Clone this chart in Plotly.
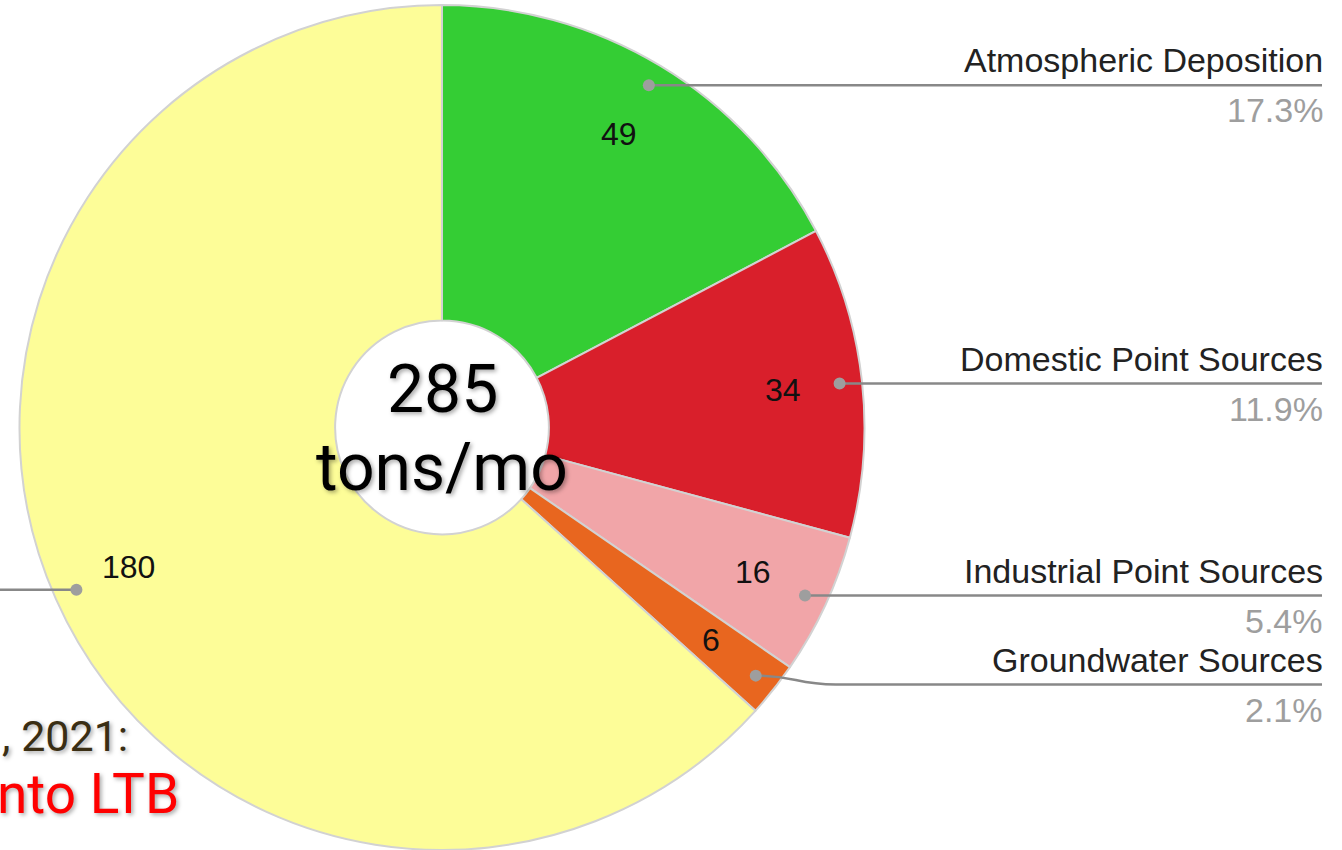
import math
import plotly.graph_objects as go

W, H = 1342, 850

# ---- data ----
names = ["Atmospheric Deposition", "Domestic Point Sources",
         "Industrial Point Sources", "Groundwater Sources", " "]
amounts = [49, 34, 16, 6, 180]          # tons/mo shown inside slices
shares = [17.3, 11.9, 5.4, 2.1, 63.3]   # percent shares
pct_labels = ["17.3%", "11.9%", "5.4%", "2.1%", "63.3%"]
colors = ["#34CD34", "#D91F2B", "#F1A5A8", "#E8661F", "#FDFD98"]
total_text = ["285", "tons/mo"]
side_text = [", 2021:", "nto LTB"]

# ---- geometry (pixels) ----
cx, cy, R = 442.0, 427.5, 422.5
hole = 0.253
dom_x = [(cx - R) / W, (cx + R) / W]
dom_y = [0.0, 1 - 5 / H]

def px(x):
    return x / W

def py(y):
    return 1 - y / H

def polar(theta_deg, r):
    t = math.radians(theta_deg)
    return cx + r * math.sin(t), cy - r * math.cos(t)

fig = go.Figure(go.Pie(
    labels=names, values=shares, sort=False, direction="clockwise",
    rotation=0, hole=hole, textinfo="none", hoverinfo="label+percent",
    marker=dict(colors=colors, line=dict(color="#D2D2D2", width=2)),
    domain=dict(x=dom_x, y=dom_y), showlegend=False,
))

shapes, annos = [], []
lab_font = dict(family="Liberation Sans, Arial, sans-serif", size=32, color="#111111")
name_font = dict(family="Liberation Sans, Arial, sans-serif", size=34, color="#222222")
pct_font = dict(family="Liberation Sans, Arial, sans-serif", size=34, color="#9E9E9E")
line_col = "#888888"
dot_r = 6

total = sum(shares)
cum = 0.0
right = []
for i, s in enumerate(shares):
    a0 = cum / total * 360
    cum += s
    a1 = cum / total * 360
    mid = (a0 + a1) / 2
    tx, ty = polar(mid, 343)
    annos.append(dict(x=px(tx), y=py(ty), xref="paper", yref="paper",
                      text=str(amounts[i]), showarrow=False,
                      xanchor="center", yanchor="middle", font=lab_font))
    dx, dy = polar(mid, 400)
    if mid < 180:
        right.append([i, dx, dy, dy])
    else:
        # label on the left side (cut off)
        shapes.append(dict(type="line", xref="paper", yref="paper",
                           x0=px(dx), y0=py(dy), x1=px(-5), y1=py(dy),
                           line=dict(color=line_col, width=2.5), layer="above"))
        shapes.append(dict(type="circle", xref="paper", yref="paper",
                           x0=px(dx - dot_r), x1=px(dx + dot_r),
                           y0=py(dy - dot_r), y1=py(dy + dot_r),
                           fillcolor="#9E9E9E", line=dict(width=0), layer="above"))

# collision avoidance: push lower labels down
gap = 89
right.sort(key=lambda r: r[2])
for k in range(1, len(right)):
    if right[k][3] - right[k - 1][3] < gap:
        right[k][3] = right[k - 1][3] + gap

x_end = 1322
for i, dx, dy, L in right:
    if abs(L - dy) < 1:
        path = f"M {px(dx)} {py(dy)} L {px(x_end)} {py(L)}"
    else:
        path = (f"M {px(dx)} {py(dy)} C {px(dx + 40)} {py(dy)} {px(dx + 40)} {py(L)} "
                f"{px(dx + 80)} {py(L)} L {px(x_end)} {py(L)}")
    shapes.append(dict(type="path", xref="paper", yref="paper", path=path,
                       line=dict(color=line_col, width=2.5), layer="above"))
    shapes.append(dict(type="circle", xref="paper", yref="paper",
                       x0=px(dx - dot_r), x1=px(dx + dot_r),
                       y0=py(dy - dot_r), y1=py(dy + dot_r),
                       fillcolor="#9E9E9E", line=dict(width=0), layer="above"))
    annos.append(dict(x=px(x_end + 3), y=py(L - 25), xref="paper", yref="paper",
                      text=names[i], showarrow=False, xanchor="right",
                      yanchor="middle", font=name_font))
    annos.append(dict(x=px(x_end + 3), y=py(L + 25), xref="paper", yref="paper",
                      text=pct_labels[i], showarrow=False, xanchor="right",
                      yanchor="middle", font=pct_font))

shadow = "2px 2px 4px rgba(0,0,0,0.35)"
ctr_font = dict(family="Roboto, sans-serif", size=66, color="#000000", shadow=shadow)
annos.append(dict(x=px(cx), y=py(389), xref="paper", yref="paper", text=total_text[0],
                  showarrow=False, xanchor="center", yanchor="middle", font=ctr_font))
annos.append(dict(x=px(cx), y=py(467), xref="paper", yref="paper", text=total_text[1],
                  showarrow=False, xanchor="center", yanchor="middle", font=ctr_font))

annos.append(dict(x=px(130), y=py(736), xref="paper", yref="paper", text=side_text[0],
                  showarrow=False, xanchor="right", yanchor="middle",
                  font=dict(family="Roboto, sans-serif", size=43, color="#3A2E14", shadow=shadow)))
annos.append(dict(x=px(181), y=py(794), xref="paper", yref="paper", text=side_text[1],
                  showarrow=False, xanchor="right", yanchor="middle",
                  font=dict(family="Roboto, sans-serif", size=55, color="#FF0000", shadow=shadow)))

fig.update_layout(
    width=W, height=H, margin=dict(l=0, r=0, t=0, b=0),
    paper_bgcolor="white", plot_bgcolor="white",
    shapes=shapes, annotations=annos,
)
fig.write_html("out.html")
